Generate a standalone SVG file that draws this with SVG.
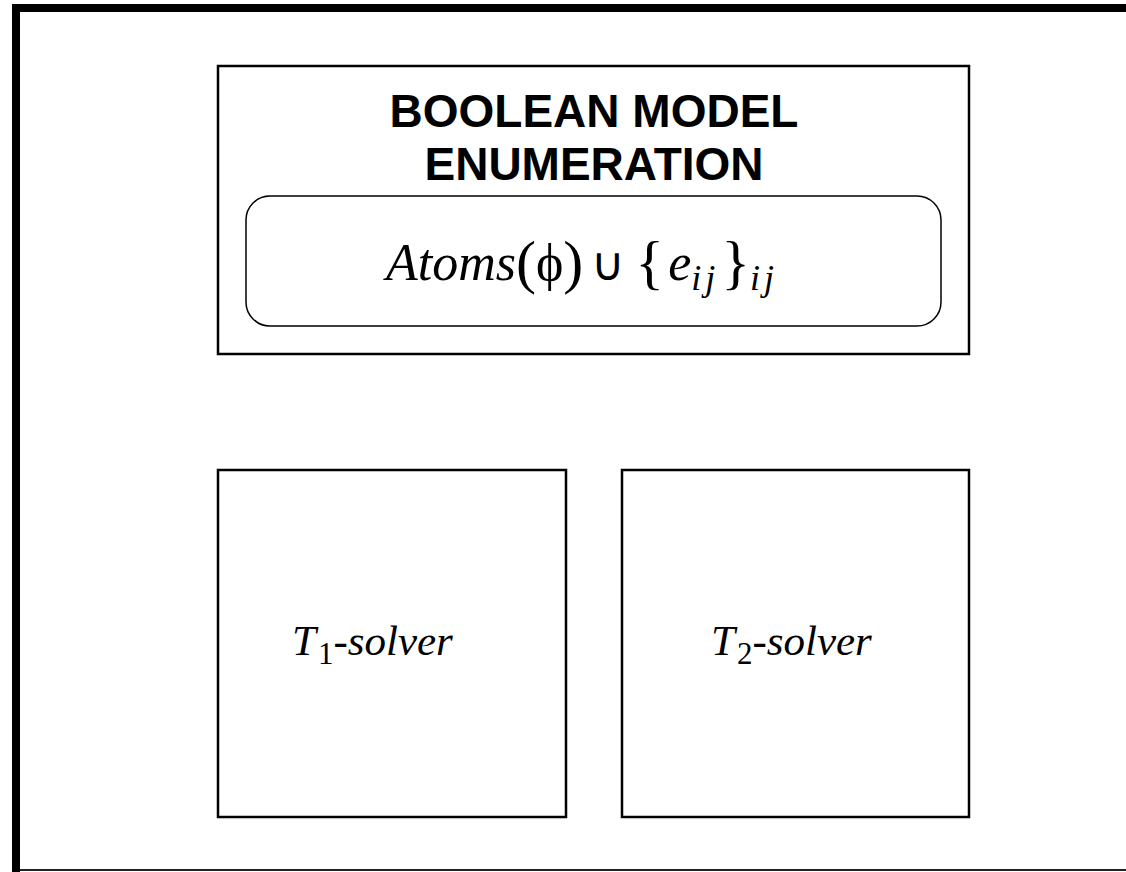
<svg xmlns="http://www.w3.org/2000/svg" width="1126" height="872" viewBox="0 0 1126 872">
<style>
.box{fill:#fff;stroke:#000;stroke-width:2.5}
.title{font-family:"Liberation Sans",Arial,sans-serif;font-weight:bold;font-size:46px;fill:#000;text-anchor:middle}
.math{font-family:"Liberation Serif","Times New Roman",serif;fill:#000}
.it{font-style:italic}
.sub{font-style:italic;font-size:36px;letter-spacing:4px}
</style>
<rect width="1126" height="872" fill="#fff"/>
<g id="frame">
<rect x="12" y="4" width="1114" height="8" fill="#000"/>
<rect x="12" y="4" width="8" height="868" fill="#000"/>
<rect x="20" y="869" width="1106" height="2" fill="#222"/>
</g>
<g id="connectors"></g>
<g id="boolean-enum">
<rect class="box" x="218" y="66" width="751" height="288"/>
<text class="title" x="594" y="127">BOOLEAN MODEL</text>
<text class="title" x="594" y="180">ENUMERATION</text>
<rect x="246" y="196" width="695" height="130" rx="24" ry="24" fill="#fff" stroke="#000" stroke-width="1.5"/>
<text class="math" x="386" y="280" font-size="52"><tspan class="it">Atoms</tspan><tspan font-size="60" dy="2">(</tspan><tspan dy="-2">ϕ</tspan><tspan font-size="60" dy="2">)</tspan><tspan dx="8" dy="-2" font-size="46">∪</tspan><tspan dx="10" font-size="60" dy="2">{</tspan><tspan class="it" dx="4" dy="-2">e</tspan><tspan class="sub" dy="10">ij</tspan><tspan font-size="60" dy="-8" dx="2">}</tspan><tspan class="sub" dy="8">ij</tspan></text>
</g>
<g id="t1-solver">
<rect class="box" x="218" y="470" width="348" height="347"/>
<text class="math" x="292" y="655" font-size="43"><tspan class="it">T</tspan><tspan font-size="31" dy="9" dx="2">1</tspan><tspan class="it" dy="-9">-solver</tspan></text>
</g>
<g id="t2-solver">
<rect class="box" x="622" y="470" width="347" height="347"/>
<text class="math" x="711" y="655" font-size="43"><tspan class="it">T</tspan><tspan font-size="31" dy="9" dx="2">2</tspan><tspan class="it" dy="-9">-solver</tspan></text>
</g>
</svg>
